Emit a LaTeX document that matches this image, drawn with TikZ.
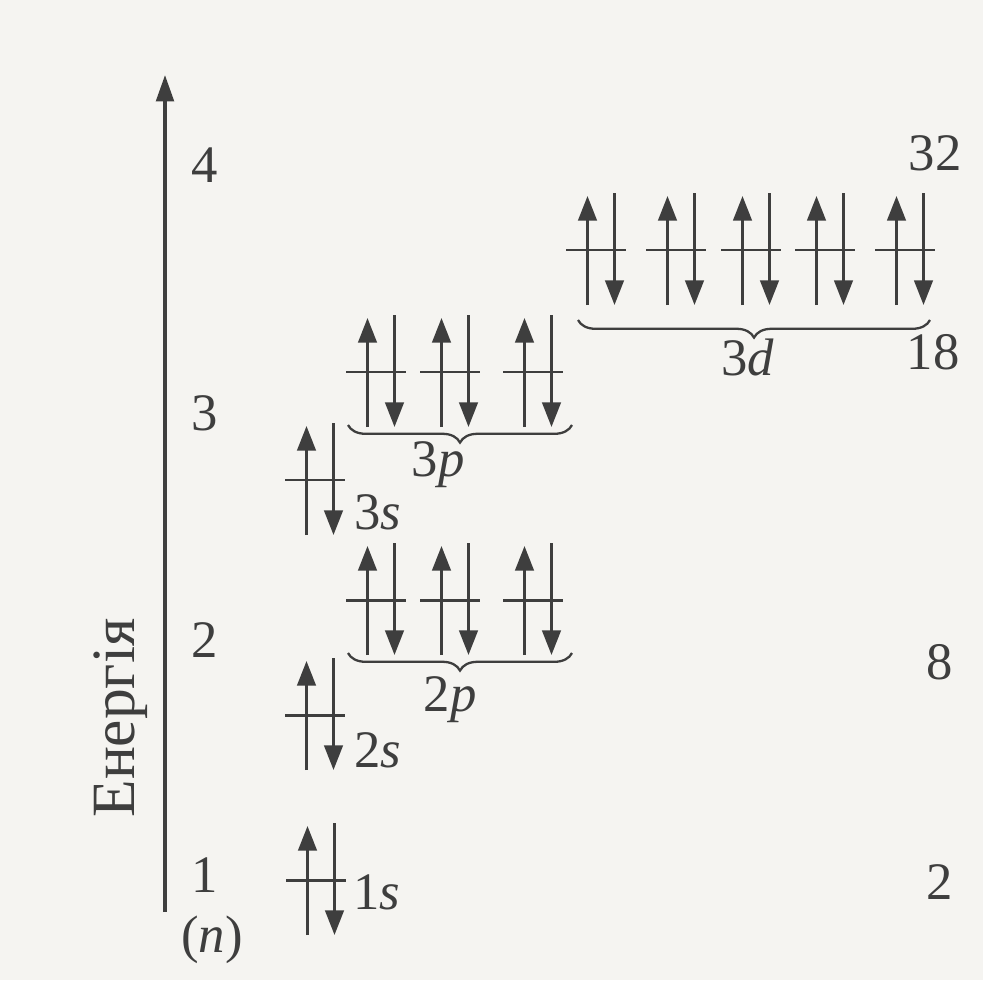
\documentclass[tikz,border=0pt]{standalone}
\usepackage{fontspec}
\setmainfont{Liberation Serif}
\usetikzlibrary{arrows.meta,decorations.pathreplacing}
\definecolor{Ink}{RGB}{62,62,62}
\definecolor{Paper}{RGB}{245,244,241}

\begin{document}
\begin{tikzpicture}[x=0.02cm,y=-0.02cm,
  lbl/.style={font=\fontsize{30}{36}\selectfont,text=Ink,inner sep=0pt},
  spin/.style={line width=1.7pt,Ink,-{Triangle[length=14pt,width=10.5pt]}},
  level/.style={line width=1.7pt,Ink},
  shell/.style={decorate,decoration={brace,amplitude=10pt,mirror},line width=1.3pt,Ink},
  orb/.pic={
    \draw[level] (-35,0) -- (25,0);
    \draw[spin] (-13.5,55) -- (-13.5,-54);
    \draw[spin] (13.5,-57) -- (13.5,55);
  }
]
  \fill[Paper] (0,0) rectangle (983,980);
  \useasboundingbox (0,0) rectangle (983,980);

  % energy axis
  \coordinate (axbot) at (165,912);
  \coordinate (axtop) at (165,75);
  \draw[line width=2pt,Ink,-{Triangle[length=15pt,width=10pt]}] (axbot) -- (axtop);
  \node[lbl,font=\fontsize{35}{40}\selectfont,rotate=90] (energy) at (121,718) {Енергія};
  \node[lbl] (n4) at (205,165) {4};
  \node[lbl] (n3) at (205,413) {3};
  \node[lbl] (n2) at (205,640) {2};
  \node[lbl] (n1) at (205,875) {1};
  \node[lbl] (nn) at (212,940) {(\textit{n})};

  % s orbitals
  \pic at (321,880) {orb};
  \pic at (320,715) {orb};
  \pic at (320,480) {orb};
  \node[lbl] (l1s) at (377,892) {1\textit{s}};
  \node[lbl] (l2s) at (378,750) {2\textit{s}};
  \node[lbl] (l3s) at (378,512) {3\textit{s}};

  % p orbitals
  \foreach \x in {381,455,538} {
    \pic at (\x,600) {orb};
    \pic at (\x,372) {orb};
  }
  \draw[shell] (348,653) -- (572,653);
  \draw[shell] (348,425) -- (572,425);
  \node[lbl] (l2p) at (450,700) {2\textit{p}};
  \node[lbl] (l3p) at (438,465) {3\textit{p}};

  % d orbitals
  \foreach \x in {601,681,756,830,910}
    \pic at (\x,250) {orb};
  \draw[shell] (578,320) -- (930,320);
  \node[lbl] (l3d) at (748,357) {3\textit{d}};

  % shell capacities
  \node[lbl] (c32) at (935,153) {32};
  \node[lbl] (c18) at (933,352) {18};
  \node[lbl] (c8) at (940,662) {8};
  \node[lbl] (c2) at (940,882) {2};
\end{tikzpicture}
\end{document}
